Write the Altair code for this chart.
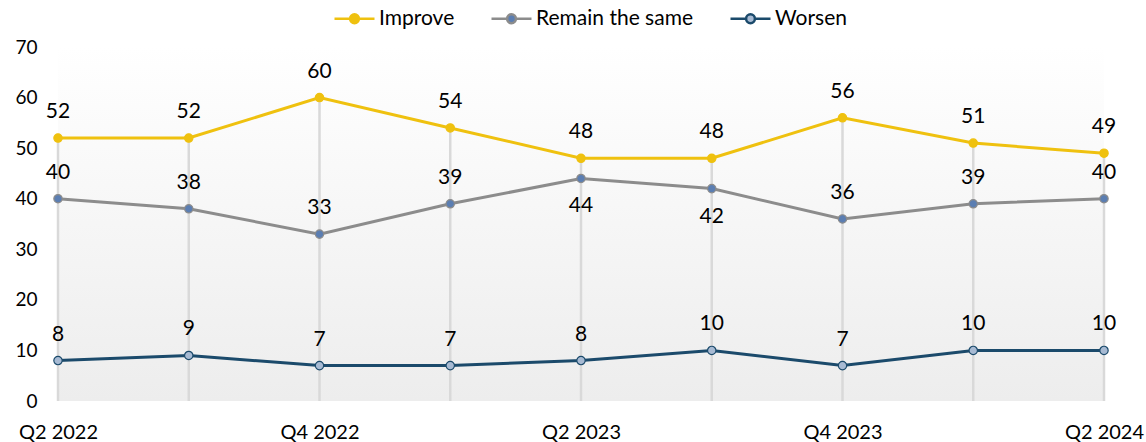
import altair as alt
import pandas as pd

quarters = ["Q2 2022", "Q3 2022", "Q4 2022", "Q1 2023", "Q2 2023",
            "Q3 2023", "Q4 2023", "Q1 2024", "Q2 2024"]
tick_labels = ["Q2 2022", "Q4 2022", "Q2 2023", "Q4 2023", "Q2 2024"]
improve = [52, 52, 60, 54, 48, 48, 56, 51, 49]
remain = [40, 38, 33, 39, 44, 42, 36, 39, 40]
worsen = [8, 9, 7, 7, 8, 10, 7, 10, 10]
series_names = ["Improve", "Remain the same", "Worsen"]
line_colors = ["#EFC10F", "#8C8C8C", "#1B4A6B"]
marker_colors = ["#EFC10F", "#5B7EB2", "#A7BAD3"]

FONT = "Lato"

rows = []
for name, vals in zip(series_names, [improve, remain, worsen]):
    for i, (q, v) in enumerate(zip(quarters, vals)):
        below = name == "Remain the same" and (improve[i] - v) < 8
        rows.append({"quarter": q, "series": name, "value": v, "below": below})
df = pd.DataFrame(rows)
drop_df = pd.DataFrame({"quarter": quarters, "top": improve, "zero": [0] * len(quarters)})

x_enc = alt.X("quarter:N", sort=quarters,
              scale=alt.Scale(type="point", padding=0),
              axis=alt.Axis(values=tick_labels, labelAngle=0, title=None, domain=False,
                            ticks=False, grid=False, labelPadding=21, labelFontSize=20,
                            labelFont=FONT, labelColor="#000000"))
y_scale = alt.Scale(domain=[0, 70], nice=False)
y_axis = alt.Axis(values=list(range(0, 71, 10)), title=None, domain=False, ticks=False,
                  grid=False, labelPadding=21, labelFontSize=19, labelFont=FONT,
                  labelColor="#000000")

legend_path = ("M-1,0H-0.22M0.22,0H1M-0.22,0A0.22,0.22,0,1,1,0.22,0"
               "A0.22,0.22,0,1,1,-0.22,0Z")

stroke_scale = alt.Scale(domain=series_names, range=line_colors)
fill_scale = alt.Scale(domain=series_names, range=marker_colors)
legend = alt.Legend(title=None, orient="none", direction="horizontal",
                    legendX=275, legendY=-50, symbolType=legend_path, symbolSize=1600,
                    symbolStrokeWidth=2.5, labelFontSize=21, labelFont=FONT,
                    labelColor="#000000", labelOffset=3, columnPadding=31,
                    symbolOpacity=1)

bg = alt.LinearGradient(gradient="linear", x1=0, x2=0, y1=0, y2=1,
                        stops=[alt.GradientStop(color="#FFFFFF", offset=0),
                               alt.GradientStop(color="#EDEDED", offset=1)])

background = alt.Chart(pd.DataFrame({"a": [0]})).mark_rect(color=bg).encode(
    x=alt.value(0), x2=alt.value({"expr": "width"}),
    y=alt.value(0), y2=alt.value({"expr": "height"}),
)

drops = alt.Chart(drop_df).mark_rule(color="#D9D9D9", strokeWidth=2.5).encode(
    x=x_enc,
    y=alt.Y("top:Q", scale=y_scale, axis=y_axis),
    y2="zero:Q",
)

lines = alt.Chart(df).mark_line(strokeWidth=3).encode(
    x=x_enc,
    y=alt.Y("value:Q", scale=y_scale, axis=y_axis),
    stroke=alt.Stroke("series:N", scale=stroke_scale, legend=legend),
    detail="series:N",
)

points = alt.Chart(df).mark_point(filled=True, size=70, strokeWidth=1.2, opacity=1).encode(
    x=x_enc,
    y=alt.Y("value:Q", scale=y_scale),
    fill=alt.Fill("series:N", scale=fill_scale, legend=legend),
    stroke=alt.Stroke("series:N", scale=stroke_scale, legend=legend),
)

labels_above = alt.Chart(df).transform_filter("!datum.below").mark_text(
    dy=-26, fontSize=21, font=FONT, color="#000000", baseline="middle"
).encode(
    x=x_enc,
    y=alt.Y("value:Q", scale=y_scale),
    text="value:Q",
)
labels_below = alt.Chart(df).transform_filter("datum.below").mark_text(
    dy=28, fontSize=21, font=FONT, color="#000000", baseline="middle"
).encode(
    x=x_enc,
    y=alt.Y("value:Q", scale=y_scale),
    text="value:Q",
)

chart = alt.layer(background, drops, lines, points, labels_above, labels_below).properties(
    width=1046, height=354,
    autosize=alt.AutoSizeParams(type="none"),
    padding={"left": 58, "top": 47, "right": 42, "bottom": 41},
    background="#FFFFFF",
).configure_view(stroke=None)

chart.save("out.html", embed_options={"renderer": "svg", "actions": False})
